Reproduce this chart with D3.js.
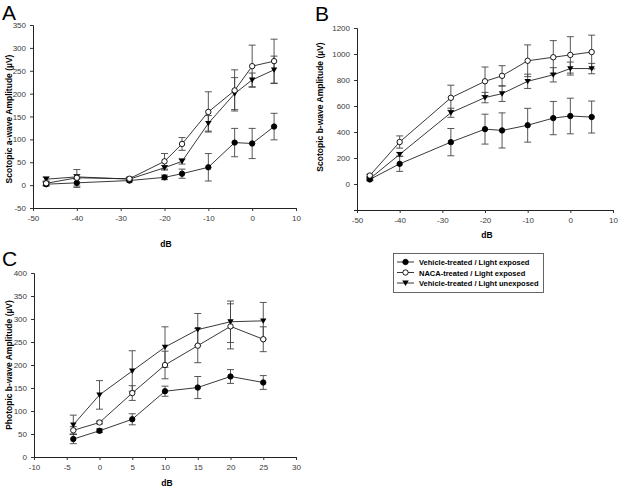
<!DOCTYPE html>
<html>
<head>
<meta charset="utf-8">
<script src="https://cdnjs.cloudflare.com/ajax/libs/d3/7.8.5/d3.min.js"></script>
<style>
  body { margin: 0; background: #fff; }
  svg { font-family: "Liberation Sans", Arial, sans-serif; }
</style>
</head>
<body>
<div id="chart"></div>
<script>
// scotopic series (panels A and B)
var scotX = [-47, -40, -28, -20, -16, -10, -4, 0, 5];

var aVehExp = [2, 5, 10, 17, 25, 39, 93, 91, 128];
var aVehExpErr = [4, 10, 3, 5, 10, 30, 31, 33, 29];
var aNaca = [4, 16, 14, 52, 90, 160, 207, 260, 271];
var aNacaErr = [5, 18, 3, 17, 14, 44, 45, 46, 48];
var aVehUnexp = [13, 18, 13, 38, 52, 135, 200, 230, 252];
var aVehUnexpErr = [5, 5, 3, 5, 6, 17, 35, 15, 30];

var bVehExp = [35, 155, 322, 422, 412, 452, 507, 523, 515];
var bVehExpErr = [10, 58, 105, 115, 135, 130, 128, 137, 123];
var bNaca = [65, 323, 663, 790, 832, 948, 975, 993, 1015];
var bNacaErr = [10, 47, 97, 110, 78, 122, 128, 140, 130];
var bVehUnexp = [40, 228, 548, 665, 695, 790, 840, 888, 888];
var bVehUnexpErr = [8, 15, 35, 40, 60, 55, 55, 50, 40];

// photopic series (panel C)
var photX = [-4, 0, 5, 10, 15, 20, 25];
var cVehExp = [39, 57, 82, 143, 151, 175, 162];
var cVehExpErr = [10, 4, 12, 11, 24, 15, 15];
var cNaca = [58, 75, 139, 200, 242, 284, 256];
var cNacaErr = [8, 3, 16, 30, 37, 49, 27];
var cVehUnexp = [70, 135, 187, 239, 277, 294, 296];
var cVehUnexpErr = [21, 31, 44, 44, 35, 45, 40];

var legendLabels = ["Vehicle-treated / Light exposed", "NACA-treated / Light exposed", "Vehicle-treated / Light unexposed"];
var markerKinds = ["filled", "open", "triangle"];

var svg = d3.select("#chart").append("svg")
    .attr("width", 619)
    .attr("height", 489);

function drawMarker(g, kind, x, y)
{
	if (kind === "triangle") {
		g.append("path")
			.attr("d", "M" + (x - 3.2) + "," + (y - 2.4) + "L" + (x + 3.2) + "," + (y - 2.4) + "L" + x + "," + (y + 3) + "Z")
			.attr("fill", "#000");
	} else {
		g.append("circle")
			.attr("cx", x).attr("cy", y).attr("r", 2.7)
			.attr("fill", kind === "filled" ? "#000" : "#fff")
			.attr("stroke", "#000").attr("stroke-width", 0.9);
	}
}

// plain numbers with a hyphen minus, like the original figure
function plainNum(d)
{
	return String(d);
}

function drawPanel(p)
{
	var g = svg.append("g");
	var x = d3.scaleLinear().domain(p.xDomain).range([p.left, p.right]);
	var y = d3.scaleLinear().domain(p.yDomain).range([p.bottom, p.top]);

	var xAxis = g.append("g")
		.attr("transform", "translate(0," + p.bottom + ")")
		.call(d3.axisBottom(x).tickValues(p.xTicks).tickFormat(plainNum).tickSize(3).tickPadding(4));
	var yAxis = g.append("g")
		.attr("transform", "translate(" + p.left + ",0)")
		.call(d3.axisLeft(y).tickValues(p.yTicks).tickFormat(plainNum).tickSize(3).tickPadding(4));
	[xAxis, yAxis].forEach(function (a) {
		a.selectAll("text").attr("font-size", 8).attr("fill", "#3a3a3a").attr("font-family", "Liberation Sans, Arial, sans-serif");
		a.selectAll("line").attr("stroke", "#333");
		a.select(".domain").attr("stroke", "#222");
	});

	// lines first, then error bars, then markers
	p.series.forEach(function (s) {
		var line = d3.line()
			.x(function (d, i) { return x(p.xs[i]); })
			.y(function (d) { return y(d); });
		g.append("path").datum(s.vals)
			.attr("d", line)
			.attr("fill", "none")
			.attr("stroke", "#222")
			.attr("stroke-width", 0.9);
	});
	p.series.forEach(function (s) {
		s.vals.forEach(function (v, i) {
			var cx = x(p.xs[i]);
			var lo = y(v - s.err[i]), hi = y(v + s.err[i]);
			g.append("line").attr("x1", cx).attr("x2", cx).attr("y1", lo).attr("y2", hi)
				.attr("stroke", "#444").attr("stroke-width", 0.9);
			[lo, hi].forEach(function (yy) {
				g.append("line").attr("x1", cx - 3.5).attr("x2", cx + 3.5).attr("y1", yy).attr("y2", yy)
					.attr("stroke", "#444").attr("stroke-width", 0.9);
			});
		});
	});
	p.series.forEach(function (s) {
		s.vals.forEach(function (v, i) {
			drawMarker(g, s.kind, x(p.xs[i]), y(v));
		});
	});

	g.append("text")
		.attr("x", p.letterX).attr("y", p.letterY)
		.attr("font-size", 21)
		.text(p.letter);
	g.append("text")
		.attr("x", p.xLabelPos[0]).attr("y", p.xLabelPos[1])
		.attr("text-anchor", "middle")
		.attr("font-size", 8.5).attr("font-weight", "bold")
		.text("dB");
	g.append("text")
		.attr("transform", "translate(" + p.yLabelPos[0] + "," + p.yLabelPos[1] + ") rotate(-90)")
		.attr("text-anchor", "middle")
		.attr("font-size", 8.5).attr("font-weight", "bold")
		.text(p.yLabel);
}

drawPanel({
	letter: "A", letterX: 2, letterY: 20,
	left: 33, right: 296, top: 25, bottom: 208,
	xDomain: [-50, 10], yDomain: [-50, 350],
	xTicks: [-50, -40, -30, -20, -10, 0, 10],
	yTicks: [-50, 0, 50, 100, 150, 200, 250, 300, 350],
	xs: scotX,
	series: [
		{ vals: aVehExp, err: aVehExpErr, kind: "filled" },
		{ vals: aVehUnexp, err: aVehUnexpErr, kind: "triangle" },
		{ vals: aNaca, err: aNacaErr, kind: "open" }
	],
	xLabelPos: [166, 247], yLabelPos: [12, 119],
	yLabel: "Scotopic a-wave Amplitude (\u00b5V)"
});

drawPanel({
	letter: "B", letterX: 315, letterY: 21,
	left: 357, right: 613, top: 28, bottom: 210,
	xDomain: [-50, 10], yDomain: [-200, 1200],
	xTicks: [-50, -40, -30, -20, -10, 0, 10],
	yTicks: [0, 200, 400, 600, 800, 1000, 1200],
	xs: scotX,
	series: [
		{ vals: bVehExp, err: bVehExpErr, kind: "filled" },
		{ vals: bVehUnexp, err: bVehUnexpErr, kind: "triangle" },
		{ vals: bNaca, err: bNacaErr, kind: "open" }
	],
	xLabelPos: [487, 238], yLabelPos: [323, 107],
	yLabel: "Scotopic b-wave Amplitude (\u00b5V)"
});

drawPanel({
	letter: "C", letterX: 2, letterY: 266,
	left: 34, right: 296, top: 273, bottom: 457,
	xDomain: [-10, 30], yDomain: [0, 400],
	xTicks: [-10, -5, 0, 5, 10, 15, 20, 25, 30],
	yTicks: [0, 50, 100, 150, 200, 250, 300, 350, 400],
	xs: photX,
	series: [
		{ vals: cVehExp, err: cVehExpErr, kind: "filled" },
		{ vals: cNaca, err: cNacaErr, kind: "open" },
		{ vals: cVehUnexp, err: cVehUnexpErr, kind: "triangle" }
	],
	xLabelPos: [167, 486], yLabelPos: [12, 365],
	yLabel: "Photopic b-wave Amplitude (\u00b5V)"
});

// legend
var leg = svg.append("g");
leg.append("rect")
	.attr("x", 393.5).attr("y", 253.5).attr("width", 150).attr("height", 39)
	.attr("fill", "#fff").attr("stroke", "#555").attr("stroke-width", 0.9);
legendLabels.forEach(function (label, i) {
	var yy = 262 + i * 10.5;
	leg.append("line").attr("x1", 397).attr("x2", 414).attr("y1", yy).attr("y2", yy)
		.attr("stroke", "#222").attr("stroke-width", 0.9);
	drawMarker(leg, markerKinds[i], 405.5, yy);
	leg.append("text")
		.attr("x", 419).attr("y", yy + 3)
		.attr("font-size", 7.5).attr("font-weight", "bold")
		.text(label);
});
</script>
</body>
</html>
